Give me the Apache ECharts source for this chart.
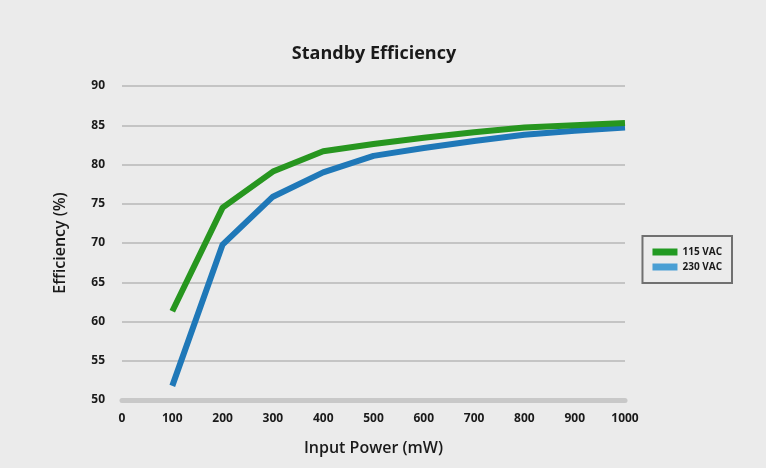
<!DOCTYPE html>
<html>
<head>
<meta charset="utf-8">
<script src="https://cdn.jsdelivr.net/npm/echarts@6/dist/echarts.min.js"></script>
<style>
    html, body { margin: 0; padding: 0; background: #ebebeb; }
    #chart { width: 766px; height: 468px; }
</style>
</head>
<body>
<div id="chart"></div>
<script>
// 数据
const inputPower = [100, 200, 300, 400, 500, 600, 700, 800, 900, 1000];
const eff115 = [61.3, 74.5, 79.1, 81.7, 82.6, 83.4, 84.1, 84.7, 85.0, 85.3];
const eff230 = [51.8, 69.8, 75.9, 79.0, 81.1, 82.1, 83.0, 83.8, 84.3, 84.7];
const seriesNames = ['115 VAC', '230 VAC'];

const font = '"Open Sans", "Noto Sans", sans-serif';
const chart = echarts.init(document.getElementById('chart'));

chart.setOption({
    backgroundColor: '#ebebeb',
    textStyle: { fontFamily: font },
    title: {
        text: 'Standby Efficiency',
        left: 369,
        textAlign: 'center',
        top: 40,
        textStyle: { fontSize: 18, fontWeight: 'bold', color: '#1a1a1a', fontFamily: font }
    },
    legend: {
        orient: 'vertical',
        right: 34,
        top: 236,
        data: [
            { name: seriesNames[0], itemStyle: { color: '#229a22' } },
            { name: seriesNames[1], itemStyle: { color: '#4a9fd4' } }
        ],
        icon: 'rect',
        itemWidth: 25,
        itemHeight: 7,
        itemGap: 5,
        padding: [11, 10, 11, 10],
        borderColor: '#707070',
        borderWidth: 2,
        textStyle: { fontSize: 10, fontWeight: 'bold', color: '#1a1a1a', fontFamily: font }
    },
    grid: { left: 122, right: 141, top: 86, bottom: 68 },
    xAxis: {
        type: 'value',
        min: 0,
        max: 1000,
        interval: 100,
        name: 'Input Power (mW)',
        nameLocation: 'middle',
        nameGap: 40,
        nameTextStyle: { fontSize: 16, fontWeight: 600, color: '#1a1a1a', fontFamily: font },
        axisLine: { show: true, lineStyle: { color: '#c8c8c8', width: 5 } },
        axisTick: { show: false },
        splitLine: { show: false },
        axisLabel: {
            margin: 13, fontSize: 12, fontWeight: 'bold', color: '#1a1a1a', fontFamily: font,
            formatter: v => String(v)
        }
    },
    yAxis: {
        type: 'value',
        min: 50,
        max: 90,
        interval: 5,
        name: 'Efficiency (%)',
        nameLocation: 'middle',
        nameGap: 54,
        nameTextStyle: { fontSize: 16, fontWeight: 600, color: '#1a1a1a', fontFamily: font },
        axisLine: { show: false },
        axisTick: { show: false },
        splitLine: { lineStyle: { color: '#c4c4c4', width: 2 } },
        axisLabel: { margin: 17, fontSize: 12, fontWeight: 'bold', color: '#1a1a1a', fontFamily: font }
    },
    series: [
        {
            name: seriesNames[0],
            type: 'line',
            data: inputPower.map((x, i) => [x, eff115[i]]),
            showSymbol: false,
            lineStyle: { width: 6, color: '#27961f' },
            itemStyle: { color: '#27961f' },
            z: 3
        },
        {
            name: seriesNames[1],
            type: 'line',
            data: inputPower.map((x, i) => [x, eff230[i]]),
            showSymbol: false,
            lineStyle: { width: 6, color: '#1f78b8' },
            itemStyle: { color: '#1f78b8' },
            z: 2
        }
    ]
});
</script>
</body>
</html>
